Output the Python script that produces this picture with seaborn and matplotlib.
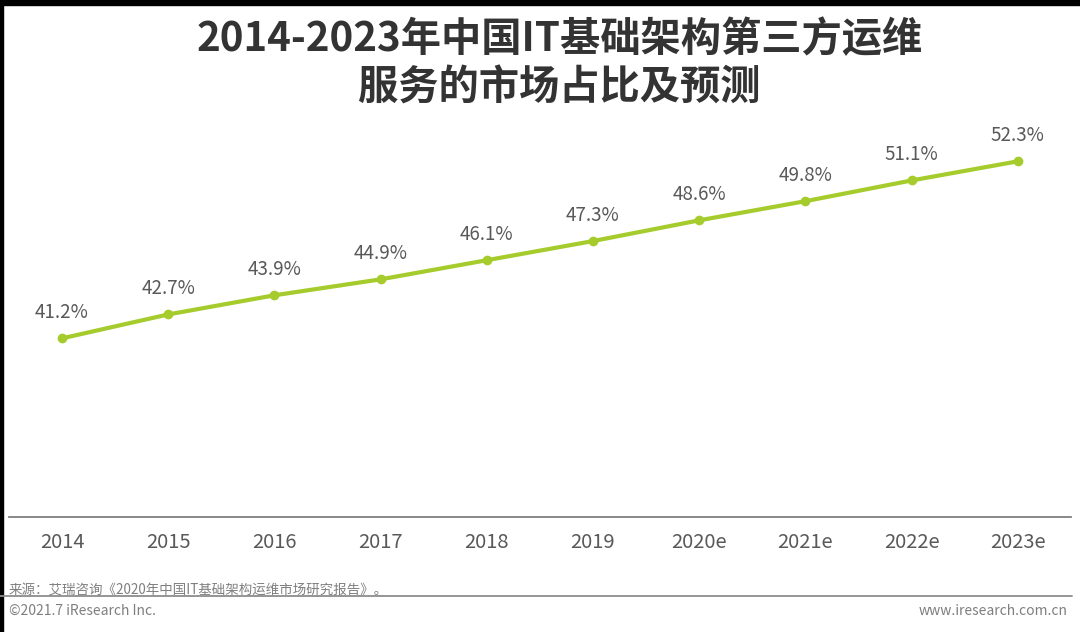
import pandas as pd
import matplotlib
matplotlib.use('Agg')
import matplotlib.pyplot as plt
import seaborn as sns
from matplotlib.patches import Rectangle

# data
years = ['2014', '2015', '2016', '2017', '2018', '2019', '2020e', '2021e', '2022e', '2023e']
share = [41.2, 42.7, 43.9, 44.9, 46.1, 47.3, 48.6, 49.8, 51.1, 52.3]
labels = ['41.2%', '42.7%', '43.9%', '44.9%', '46.1%', '47.3%', '48.6%', '49.8%', '51.1%', '52.3%']

df = pd.DataFrame({'year': years, 'share': share})

sns.set_style('white')
plt.rcParams['font.family'] = ['Noto Sans CJK SC', 'DejaVu Sans']

fig = plt.figure(figsize=(10.8, 6.32), dpi=100)
ax = fig.add_axes([8.9 / 1080, 1 - 517 / 632, 1062 / 1080, (517 - 120) / 632])

green = '#a5cc2c'
sns.lineplot(data=df, x='year', y='share', ax=ax, color=green, linewidth=3,
             marker='o', markersize=7, markeredgewidth=0, sort=False)

for i, (v, t) in enumerate(zip(share, labels)):
    ax.annotate(t, (i, v), xytext=(0, 11), textcoords='offset points',
                ha='center', va='bottom', fontsize=13.5, color='#595959')

ax.set_xlim(-0.5, len(years) - 0.5)
ax.set_ylim(30, 30 + (517 - 120) / 15.95)
ax.set_xlabel('')
ax.set_ylabel('')
ax.set_yticks([])
ax.tick_params(axis='x', length=0, labelsize=14.5, labelcolor='#595959', pad=11)
for s in ['top', 'right', 'left']:
    ax.spines[s].set_visible(False)
ax.spines['bottom'].set_color('#7f7f7f')
ax.spines['bottom'].set_linewidth(1.3)

fig.text(0.518, 1 - 40 / 632, '2014-2023年中国IT基础架构第三方运维', ha='center', va='center',
         fontsize=29, fontweight='bold', color='#333333')
fig.text(0.518, 1 - 88 / 632, '服务的市场占比及预测', ha='center', va='center',
         fontsize=29, fontweight='bold', color='#333333')

# footer
fig.text(9 / 1080, 1 - 591 / 632, '来源：艾瑞咨询《2020年中国IT基础架构运维市场研究报告》。', ha='left', va='center',
         fontsize=9.7, color='#7f7f7f')
fig.add_artist(plt.Line2D([0, 1072 / 1080], [1 - 596 / 632, 1 - 596 / 632], color='#8c8c8c', linewidth=1.3))
fig.text(9 / 1080, 1 - 611 / 632, '©2021.7 iResearch Inc.', ha='left', va='center',
         fontsize=10, color='#7f7f7f')
fig.text(1068 / 1080, 1 - 611 / 632, 'www.iresearch.com.cn', ha='right', va='center',
         fontsize=10, color='#7f7f7f')

# black border from the screenshot
fig.add_artist(Rectangle((0, 1 - 5 / 632), 1, 5 / 632, transform=fig.transFigure, color='black'))
fig.add_artist(Rectangle((0, 0), 3 / 1080, 1, transform=fig.transFigure, color='black'))

fig.savefig('out.png', dpi=100)
